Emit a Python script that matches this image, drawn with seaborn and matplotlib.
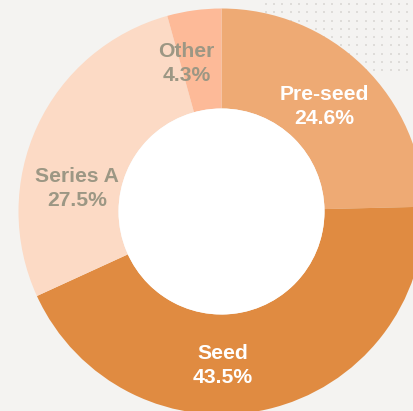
import numpy as np
import matplotlib
matplotlib.use("Agg")
import matplotlib.pyplot as plt
import seaborn as sns

categories = ["Pre-seed", "Seed", "Series A", "Other"]
shares = [24.6, 43.5, 27.5, 4.3]
colors = ["#EEAA74", "#E08B41", "#FCDAC5", "#FDBA98"]
label_colors = ["#FFFFFF", "#FFFFFF", "#9C9784", "#9C9784"]

# label placement (angle in degrees, radius in px from the centre)
label_angle = [45.6, -89.6, 171.0, 103.4]
label_radius = [147, 154, 146, 152]

sns.set_theme(style="white")
plt.rcParams["font.family"] = ["Liberation Sans", "DejaVu Sans"]

W, H = 414, 411
fig = plt.figure(figsize=(W / 100, H / 100), dpi=100)
fig.patch.set_facecolor("#F4F3F1")
ax = fig.add_axes([0, 0, 1, 1])
ax.set_facecolor("#F4F3F1")

# dot pattern, top right
xs = np.arange(265.7, W + 2, 8.33)
ys = np.arange(4.0, 76, 8.3)
gx, gy = np.meshgrid(xs, ys)
ax.scatter(gx.ravel(), H - gy.ravel(), s=3.4, marker="s", color="#DEDCD9",
           linewidths=0, zorder=1)

cx, cy = 221.5, H - 211.5
R_out, R_in = 203, 103
ax.pie(shares, colors=colors, startangle=90, counterclock=False,
       radius=R_out, center=(cx, cy), frame=True,
       wedgeprops=dict(width=R_out - R_in, linewidth=0, edgecolor="none"))
ax.set_xlim(0, W)
ax.set_ylim(0, H)
ax.set_aspect("auto")
ax.axis("off")
ax.add_patch(plt.Circle((cx, cy), R_in, color="white", zorder=5, linewidth=0))

for cat, val, col, a, r in zip(categories, shares, label_colors, label_angle, label_radius):
    t = np.deg2rad(a)
    ax.text(cx + r * np.cos(t), cy + r * np.sin(t), f"{cat}\n{val:.1f}%",
            ha="center", va="center", color=col, fontsize=15.2,
            fontweight="bold", linespacing=1.3, zorder=6)

fig.savefig("out.png", dpi=100, facecolor=fig.get_facecolor())
